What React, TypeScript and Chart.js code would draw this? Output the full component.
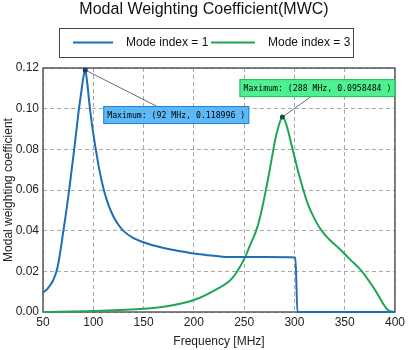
import React, { useEffect, useRef } from "react";
import { Chart, registerables } from "chart.js";
Chart.register(...registerables);

const TITLE = "Modal Weighting Coefficient(MWC)";
const X_TITLE = "Frequency [MHz]";
const Y_TITLE = "Modal weighting coefficient";
const SERIES_LABELS = ["Mode index = 1", "Mode index = 3"];
const SERIES_COLORS = ["#1f6db5", "#1ea655"];

const xTicks = [50, 100, 150, 200, 250, 300, 350, 400];
const yTicks = [0, 0.02, 0.04, 0.06, 0.08, 0.1, 0.12];

const mode1Freq = [50, 55, 60, 64, 67, 70, 73, 76, 79, 82, 85, 88, 90, 92, 94, 96.5, 99, 102.5, 106, 110.5, 115, 120, 125, 130, 140, 150, 160, 170, 180, 200, 220, 238, 270, 301, 303, 320, 360, 400];
const mode1Val = [0.0094, 0.0118, 0.0155, 0.021, 0.029, 0.039, 0.049, 0.06, 0.072, 0.084, 0.097, 0.108, 0.115, 0.118996, 0.1125, 0.101, 0.091, 0.08, 0.07, 0.06, 0.0528, 0.047, 0.0429, 0.0399, 0.0363, 0.0343, 0.0327, 0.0315, 0.0305, 0.0288, 0.0277, 0.027, 0.027, 0.0268, 0.0, 0.0, 0.0, 0.0];

const mode3Freq = [50, 100, 150, 175, 200, 221, 238, 251, 256, 262, 266, 270, 274, 278, 281, 284, 286, 288, 291, 294, 297, 300, 303.5, 308.9, 313, 320, 327, 335, 345, 355, 366.5, 380, 393, 400];
const mode3Val = [0.0, 0.0005, 0.0016, 0.003, 0.0059, 0.0108, 0.0165, 0.027, 0.033, 0.04, 0.047, 0.056, 0.066, 0.077, 0.085, 0.091, 0.094, 0.0958484, 0.0935, 0.0885, 0.0825, 0.0765, 0.0695, 0.06, 0.0535, 0.0458, 0.04, 0.0355, 0.031, 0.026, 0.0204, 0.011, 0.001, 0.0];

const BOX_STYLES = [
  { fill: "#5cb8f6", stroke: "#2a80d2", dx: 18, dy: 36, anchor: "left" },
  { fill: "#4ef08f", stroke: "#26b85c", dx: 113, dy: -38, anchor: "right" },
];

function peakOf(xs: number[], ys: number[]) {
  let i = 0;
  ys.forEach((v, k) => { if (v > ys[i]) i = k; });
  return { x: xs[i], y: ys[i] };
}

const decor = {
  id: "decor",
  beforeDatasetsDraw(chart: any) {
    const { ctx, chartArea: a } = chart;
    ctx.save();
    ctx.strokeStyle = "#5a5a5a";
    ctx.lineWidth = 1.5;
    ctx.strokeRect(a.left, a.top, a.right - a.left, a.bottom - a.top);
    ctx.restore();
  },
  afterDraw(chart: any) {
    const { ctx } = chart;
    const xs = chart.scales.x;
    const ys = chart.scales.y;
    ctx.save();
    // title
    ctx.font = '16px "Liberation Sans", Arial, sans-serif';
    ctx.fillStyle = "#111";
    ctx.textAlign = "center";
    ctx.textBaseline = "middle";
    ctx.fillText(TITLE, 204, 10);
    // legend
    ctx.strokeStyle = "#444";
    ctx.lineWidth = 1;
    ctx.strokeRect(59.5, 28.5, 294, 29);
    ctx.font = '12px "Liberation Sans", Arial, sans-serif';
    ctx.textAlign = "left";
    const items = [
      { x0: 73, x1: 113, tx: 126 },
      { x0: 211, x1: 255, tx: 268 },
    ];
    items.forEach((it, k) => {
      ctx.strokeStyle = SERIES_COLORS[k];
      ctx.lineWidth = 2;
      ctx.beginPath();
      ctx.moveTo(it.x0, 42.5);
      ctx.lineTo(it.x1, 42.5);
      ctx.stroke();
      ctx.fillStyle = "#111";
      ctx.fillText(SERIES_LABELS[k], it.tx, 43);
    });
    // peak annotations
    const peaks = [peakOf(mode1Freq, mode1Val), peakOf(mode3Freq, mode3Val)];
    ctx.font = '8.2px "DejaVu Sans Mono", monospace';
    peaks.forEach((p, k) => {
      const st = BOX_STYLES[k];
      const px = xs.getPixelForValue(p.x);
      const py = ys.getPixelForValue(p.y);
      const text = `Maximum: (${p.x} MHz, ${p.y} )`;
      const w = ctx.measureText(text).width + 8;
      const h = 18;
      const bx = st.anchor === "left" ? px + st.dx : px + st.dx - w;
      const by = py + st.dy;
      // leader
      ctx.strokeStyle = "#34495e";
      ctx.lineWidth = 0.8;
      ctx.beginPath();
      ctx.moveTo(px, py);
      if (k === 0) ctx.lineTo(px + 71, by);
      else ctx.lineTo(px + 28, by + h);
      ctx.stroke();
      ctx.fillStyle = st.fill;
      ctx.fillRect(bx, by, w, h);
      ctx.strokeStyle = st.stroke;
      ctx.lineWidth = 1;
      ctx.strokeRect(bx + 0.5, by + 0.5, w - 1, h - 1);
      ctx.fillStyle = "#000";
      ctx.textBaseline = "middle";
      ctx.textAlign = "left";
      ctx.fillText(text, bx + 4, by + h / 2 + 0.5);
      // marker
      ctx.fillStyle = k === 0 ? "#163a6a" : "#0f5a2a";
      ctx.beginPath();
      ctx.arc(px, py, 2.5, 0, Math.PI * 2);
      ctx.fill();
    });
    ctx.restore();
  },
};

export default function App() {
  const ref = useRef<HTMLCanvasElement>(null);
  useEffect(() => {
    document.body.style.margin = "0";
    const canvas = ref.current!;
    const tickFont = { family: '"Liberation Sans", Arial, sans-serif', size: 12 };
    const chart = new Chart(canvas, {
      type: "line",
      data: {
        datasets: [
          {
            label: SERIES_LABELS[0],
            data: mode1Freq.map((f, i) => ({ x: f, y: mode1Val[i] })),
            borderColor: SERIES_COLORS[0],
            borderWidth: 2,
            pointRadius: 0,
            cubicInterpolationMode: "monotone",
            clip: false,
          },
          {
            label: SERIES_LABELS[1],
            data: mode3Freq.map((f, i) => ({ x: f, y: mode3Val[i] })),
            borderColor: SERIES_COLORS[1],
            borderWidth: 2,
            pointRadius: 0,
            cubicInterpolationMode: "monotone",
            clip: false,
          },
        ],
      },
      options: {
        animation: false,
        responsive: false,
        devicePixelRatio: 1,
        layout: { padding: { top: 68, right: 11, left: 0, bottom: 0 } },
        plugins: { legend: { display: false }, tooltip: { enabled: false }, title: { display: false } },
        scales: {
          x: {
            type: "linear",
            min: 50,
            max: 400,
            afterBuildTicks: (s: any) => { s.ticks = xTicks.map((v) => ({ value: v })); },
            afterFit: (s: any) => { s.height = 38; },
            grid: { color: "#a8a8a8", drawTicks: false, lineWidth: 1 },
            border: { display: false, dash: [4, 3] },
            ticks: { font: tickFont, color: "#222", padding: 3, maxRotation: 0, autoSkip: false },
            title: { display: true, text: X_TITLE, font: tickFont, color: "#222", padding: { top: 0, bottom: 1 } },
          },
          y: {
            min: 0,
            max: 0.12,
            afterBuildTicks: (s: any) => { s.ticks = yTicks.map((v) => ({ value: v })); },
            afterFit: (s: any) => { s.width = 43; },
            grid: { color: "#a8a8a8", drawTicks: false, lineWidth: 1 },
            border: { display: false, dash: [4, 3] },
            ticks: { font: tickFont, color: "#222", padding: 4, callback: (v: any) => Number(v).toFixed(2) },
            title: { display: true, text: Y_TITLE, font: tickFont, color: "#222", padding: { top: 1, bottom: 0 } },
          },
        },
      },
      plugins: [decor],
    } as any);
    return () => chart.destroy();
  }, []);
  return <canvas ref={ref} width={408} height={350} style={{ display: "block", width: 408, height: 350 }} />;
}
